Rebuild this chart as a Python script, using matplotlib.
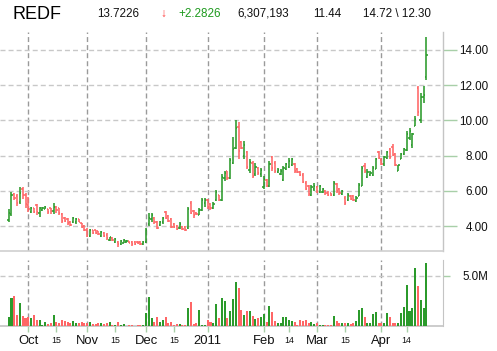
import matplotlib
matplotlib.use('Agg')
import matplotlib.pyplot as plt
from matplotlib.collections import LineCollection
import numpy as np

plt.rcParams['font.family'] = ['Liberation Sans', 'DejaVu Sans']
plt.rcParams['lines.scale_dashes'] = False

# ---------------- data (daily bars, trading-day index 0..149, Sep 22 2010 - Apr 26 2011)
opens = [4.35, 4.70, 5.80, 5.70, 5.35, 6.10, 5.75, 5.20, 4.80, 5.00,
         5.20, 4.75, 4.90, 4.98, 4.95, 5.00, 4.85, 5.10, 5.00, 4.70,
         4.45, 4.40, 4.20, 4.20, 4.20, 4.38, 4.15, 4.00, 3.80, 3.45,
         3.75, 3.75, 3.70, 3.45, 3.62, 3.50, 3.20, 3.32, 3.10, 3.10,
         2.95, 3.05, 3.10, 3.15, 3.08, 3.10, 3.10, 3.08, 2.98, 3.10,
         4.10, 4.40, 4.45, 4.25, 4.05, 4.20, 4.80, 4.55, 4.40, 4.10,
         4.00, 3.90, 3.95, 3.95, 3.90, 5.30, 4.85, 4.72, 4.65, 4.90,
         5.30, 5.50, 5.25, 5.00, 5.45, 5.75, 5.50, 6.70, 7.10, 6.75,
         7.60, 8.45, 9.60, 8.75, 8.00, 8.20, 7.20, 7.60, 6.95, 7.30,
         6.95, 6.20, 6.60, 6.30, 7.90, 7.60, 7.05, 6.95, 6.60, 7.25,
         7.35, 7.45, 7.55, 7.25, 7.05, 6.90, 6.45, 6.30, 5.75, 6.10,
         6.20, 5.95, 5.95, 6.00, 5.90, 5.85, 5.75, 6.40, 6.10, 5.80,
         5.60, 5.45, 5.72, 5.70, 5.40, 5.70, 6.30, 7.40, 6.80, 6.90,
         6.90, 7.25, 8.20, 7.75, 7.50, 7.85, 8.35, 8.50, 8.10, 7.15,
         7.80, 8.10, 8.30, 9.00, 8.60, 9.70, 11.85, 10.00, 11.30, 12.45]
highs = [4.94, 5.94, 5.85, 5.81, 6.23, 6.19, 5.90, 5.65, 5.08, 5.04,
         5.27, 5.08, 5.10, 5.13, 4.98, 5.04, 5.29, 5.13, 5.04, 4.75,
         4.52, 4.46, 4.27, 4.52, 4.46, 4.40, 4.17, 4.08, 3.88, 3.85,
         3.79, 3.79, 3.73, 3.69, 3.65, 3.60, 3.40, 3.35, 3.31, 3.12,
         3.21, 3.27, 3.21, 3.17, 3.12, 3.12, 3.12, 3.12, 3.12, 3.88,
         4.75, 4.74, 4.50, 4.30, 4.31, 4.50, 4.87, 4.60, 4.44, 4.15,
         4.06, 4.21, 4.00, 4.00, 5.10, 5.43, 4.91, 4.78, 5.00, 5.60,
         5.60, 5.54, 5.30, 5.35, 6.07, 5.77, 6.93, 7.13, 7.15, 7.89,
         9.04, 10.00, 9.90, 8.85, 8.85, 8.28, 7.80, 7.70, 7.60, 7.35,
         7.30, 6.82, 6.65, 7.68, 8.00, 7.68, 7.30, 7.24, 7.39, 7.58,
         7.87, 7.87, 7.58, 7.30, 7.11, 7.00, 6.53, 6.34, 6.35, 6.45,
         6.26, 6.35, 6.16, 6.02, 5.97, 5.88, 6.54, 6.45, 6.16, 6.07,
         5.69, 5.88, 5.78, 5.78, 5.69, 6.45, 7.40, 7.59, 7.21, 7.11,
         7.40, 7.87, 8.25, 7.87, 7.97, 8.25, 8.44, 8.63, 8.16, 7.49,
         8.16, 8.44, 9.39, 9.58, 9.30, 10.24, 11.95, 11.57, 11.95, 14.72]
lows = [4.21, 4.56, 5.45, 5.13, 5.23, 5.56, 5.04, 4.81, 4.75, 4.75,
        4.65, 4.52, 4.85, 4.94, 4.71, 4.71, 4.69, 4.75, 4.65, 4.17,
        4.21, 4.08, 3.98, 4.17, 4.13, 4.21, 3.88, 3.69, 3.35, 3.37,
        3.56, 3.56, 3.50, 3.37, 3.40, 3.21, 3.17, 3.17, 3.06, 2.83,
        2.92, 3.02, 3.06, 3.02, 2.87, 2.92, 2.98, 2.92, 2.92, 3.02,
        3.98, 4.25, 4.13, 3.85, 4.00, 4.10, 4.37, 4.25, 3.87, 3.87,
        3.77, 3.83, 3.77, 3.73, 3.83, 4.67, 4.44, 4.60, 4.60, 4.83,
        5.10, 4.96, 4.93, 4.95, 5.40, 5.40, 5.40, 6.55, 6.60, 6.65,
        7.50, 8.37, 7.80, 8.35, 7.80, 7.22, 7.03, 6.74, 6.85, 6.90,
        6.80, 6.10, 6.20, 6.21, 7.10, 7.00, 7.00, 6.91, 6.53, 7.20,
        7.30, 7.39, 7.00, 7.00, 6.82, 6.44, 6.06, 5.68, 5.68, 5.97,
        5.88, 5.88, 5.88, 5.78, 5.69, 5.69, 5.69, 5.88, 5.78, 5.78,
        5.21, 5.40, 5.50, 5.40, 5.35, 5.69, 6.26, 7.02, 6.73, 6.83,
        6.83, 7.21, 7.78, 7.45, 7.40, 7.78, 7.78, 7.97, 7.40, 7.11,
        7.78, 8.06, 8.25, 8.91, 8.44, 9.67, 10.24, 9.86, 11.00, 12.30]
closes = [4.75, 5.75, 5.60, 5.30, 5.90, 5.75, 5.25, 4.95, 5.00, 4.80,
          4.80, 5.00, 5.05, 5.08, 4.80, 4.85, 5.10, 4.90, 4.75, 4.30,
          4.30, 4.15, 4.05, 4.45, 4.40, 4.25, 3.95, 3.75, 3.45, 3.75,
          3.60, 3.62, 3.55, 3.65, 3.45, 3.30, 3.35, 3.20, 3.25, 2.95,
          3.15, 3.20, 3.15, 3.05, 2.95, 3.00, 3.02, 3.00, 3.08, 3.80,
          4.45, 4.60, 4.20, 3.90, 4.25, 4.45, 4.45, 4.30, 3.95, 3.95,
          3.85, 4.10, 3.85, 3.80, 4.95, 4.75, 4.60, 4.67, 4.90, 5.45,
          5.50, 5.10, 5.00, 5.25, 5.95, 5.50, 6.80, 7.00, 6.75, 7.75,
          8.40, 9.55, 8.25, 8.45, 8.60, 7.35, 7.65, 6.85, 7.35, 7.00,
          7.20, 6.65, 6.30, 7.50, 7.30, 7.10, 7.20, 7.15, 7.30, 7.50,
          7.70, 7.80, 7.10, 7.05, 6.90, 6.50, 6.10, 5.80, 6.20, 6.30,
          5.95, 6.25, 6.10, 5.85, 5.75, 5.75, 6.45, 6.00, 5.85, 6.00,
          5.30, 5.75, 5.55, 5.45, 5.60, 6.35, 7.30, 7.10, 7.05, 7.00,
          7.30, 7.80, 7.85, 7.50, 7.90, 8.20, 7.90, 8.05, 7.45, 7.45,
          8.10, 8.40, 9.20, 9.40, 9.20, 10.10, 10.45, 11.30, 11.44, 13.7226]
volumes_m = [0.93, 2.83, 3.00, 1.10, 2.33, 1.00, 0.77, 0.93, 0.83, 1.10,
             0.60, 0.60, 0.10, 0.43, 0.20, 0.27, 1.10, 0.43, 0.27, 0.60,
             0.50, 0.43, 0.33, 0.50, 0.33, 0.27, 0.43, 0.33, 0.33, 0.43,
             0.20, 0.20, 0.33, 0.33, 0.20, 0.27, 0.43, 0.10, 0.10, 0.43,
             0.10, 0.20, 0.03, 0.07, 0.07, 0.03, 0.07, 0.07, 0.07, 1.33,
             2.93, 0.77, 0.43, 0.93, 0.43, 0.60, 0.93, 0.33, 0.43, 0.10,
             0.20, 0.20, 0.10, 0.10, 1.77, 2.37, 0.20, 0.35, 1.60, 0.15,
             0.15, 0.60, 0.40, 0.33, 2.20, 0.76, 2.80, 2.50, 0.80, 1.55,
             2.70, 4.40, 3.80, 1.64, 1.15, 1.48, 1.50, 1.00, 0.70, 0.83,
             0.93, 1.20, 0.43, 2.00, 1.43, 0.50, 0.33, 0.33, 0.93, 0.93,
             0.60, 0.50, 0.43, 0.10, 0.60, 0.50, 0.60, 0.33, 0.43, 0.20,
             0.33, 0.13, 0.13, 0.13, 0.13, 0.10, 1.03, 0.50, 0.27, 0.27,
             0.33, 0.27, 0.20, 0.33, 0.50, 1.60, 1.77, 0.93, 0.33, 0.27,
             1.20, 1.37, 0.27, 0.33, 0.27, 1.27, 0.93, 0.33, 0.33, 0.33,
             1.27, 1.87, 4.10, 1.50, 1.80, 5.77, 4.03, 2.60, 1.83, 6.31]

month_pos = [7, 28, 49, 71, 91, 110, 133]
month_labels = ['Oct', 'Nov', 'Dec', '2011', 'Feb', 'Mar', 'Apr']
mid_pos = [17, 38, 59, 100, 120, 142]
mid_labels = ['15', '15', '15', '14', '15', '14']
price_ticks = [4, 6, 8, 10, 12, 14]
price_tick_labels = ['4.00', '6.00', '8.00', '10.00', '12.00', '14.00']
vol_ticks = [5.0]
vol_tick_labels = ['5.0M']

symbol = 'REDF'
last_price = '13.7226'
change = '+2.2826'
volume_text = '6,307,193'
prev_close = '11.44'
hi_lo = '14.72 \\ 12.30'

# ---------------- styling
GREEN = '#2b9a2b'
RED = '#ff6666'
HGRID = '#c8c8c8'
VGRID = '#9a9a9a'
SPINE = '#c4c4c4'
TICKC = '#a8cfa8'

W, H = 497, 351
fig = plt.figure(figsize=(W / 100, H / 100), dpi=100)
fig.patch.set_facecolor('white')

x_lo, x_hi = -3.10, 154.95
ax = fig.add_axes([0, 1 - 251 / H, 443 / W, (251 - 32) / H])
axv = fig.add_axes([0, 1 - 326 / H, 443 / W, (326 - 260) / H])

n = len(closes)
up = [c >= o for o, c in zip(opens, closes)]
cols = [GREEN if u else RED for u in up]

segs, segc = [], []
tick = 0.45
for i in range(n):
    segs.append([(i, lows[i]), (i, highs[i])])
    segs.append([(i - tick, opens[i]), (i, opens[i])])
    segs.append([(i, closes[i]), (i + tick, closes[i])])
    segc += [cols[i]] * 3
lc = LineCollection(segs, colors=segc, linewidths=1.15, capstyle='butt', zorder=3)
ax.add_collection(lc)

ax.set_xlim(x_lo, x_hi)
ax.set_ylim(2.58, 15.02)
ax.set_axisbelow(True)
ax.set_xticks(month_pos)
ax.tick_params(axis='x', which='both', length=0, labelbottom=False)
ax.yaxis.tick_right()
ax.set_yticks(price_ticks)
ax.set_yticklabels(price_tick_labels)
ax.tick_params(axis='y', length=10, width=1, color=TICKC, pad=22.4,
               labelsize=8.4, labelcolor='#111111')
for lbl in ax.get_yticklabels():
    lbl.set_horizontalalignment('right')
ax.grid(axis='y', color=HGRID, linestyle=(0, (3.6, 2.2)), linewidth=1.0)
ax.grid(axis='x', color=VGRID, linestyle=(0, (3.6, 2.2)), linewidth=1.0)
for s in ['top', 'left']:
    ax.spines[s].set_visible(False)
ax.spines['right'].set_color(SPINE)
ax.spines['bottom'].set_color('#cfcfcf')
ax.spines['right'].set_linewidth(1.0)
ax.spines['bottom'].set_linewidth(1.2)

# volume
axv.bar(np.arange(n), volumes_m, width=0.72, color=cols, linewidth=0, zorder=3)
axv.set_xlim(x_lo, x_hi)
axv.set_ylim(0, 6.6)
axv.set_axisbelow(True)
axv.yaxis.tick_right()
axv.set_yticks(vol_ticks)
axv.set_yticklabels(vol_tick_labels)
axv.tick_params(axis='y', length=5, width=1, color=TICKC, pad=27.4,
                labelsize=8.4, labelcolor='#111111')
for lbl in axv.get_yticklabels():
    lbl.set_horizontalalignment('right')
axv.set_xticks(month_pos)
axv.set_xticklabels(month_labels)
axv.set_xticks(mid_pos, minor=True)
axv.set_xticklabels(mid_labels, minor=True)
axv.tick_params(axis='x', which='major', length=4, width=1, color=TICKC,
                pad=2.5, labelsize=9.4, labelcolor='#111111')
axv.tick_params(axis='x', which='minor', length=4, width=1, color=TICKC,
                pad=3.0, labelsize=6.3, labelcolor='#111111')
axv.grid(axis='y', color=HGRID, linestyle=(0, (3.6, 2.2)), linewidth=1.0)
axv.grid(axis='x', which='major', color=VGRID, linestyle=(0, (3.6, 2.2)), linewidth=1.0)
for s in ['top', 'left']:
    axv.spines[s].set_visible(False)
axv.spines['right'].set_color(SPINE)
axv.spines['bottom'].set_color(SPINE)
axv.spines['bottom'].set_linewidth(1.2)

# header
def fy(y):
    return 1 - y / H

fig.text(12 / W, fy(19.3), symbol, fontsize=13, color='black', va='baseline')
fig.text(97 / W, fy(16.7), last_price, fontsize=8.4, color='#111111', va='baseline')
fig.text(160 / W, fy(16.7), '\u2193', fontsize=8.6, color='#ff3b3b', va='baseline')
fig.text(178 / W, fy(16.7), change, fontsize=8.4, color='#1e9a1e', va='baseline')
fig.text(237 / W, fy(16.7), volume_text, fontsize=8.4, color='#111111', va='baseline')
fig.text(313 / W, fy(16.7), prev_close, fontsize=8.4, color='#111111', va='baseline')
fig.text(363 / W, fy(16.7), hi_lo, fontsize=8.4, color='#111111', va='baseline')

fig.savefig('out.png', dpi=100, facecolor='white')
